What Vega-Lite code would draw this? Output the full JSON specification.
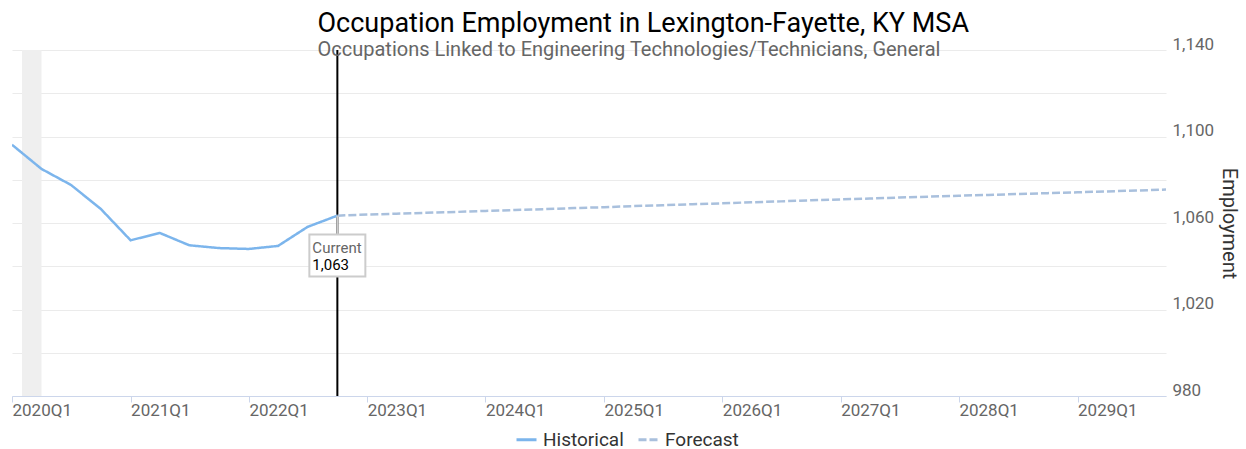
{
  "$schema": "https://vega.github.io/schema/vega-lite/v6.json",
  "width": 1154,
  "height": 346,
  "autosize": "none",
  "padding": {"left": 12, "top": 50, "right": 80, "bottom": 53},
  "background": "white",
  "config": {
    "font": "Roboto",
    "view": {"stroke": null}
  },
  "title": {
    "text": "Occupation Employment in Lexington-Fayette, KY MSA",
    "subtitle": "Occupations Linked to Engineering Technologies/Technicians, General",
    "anchor": "start",
    "dx": 306,
    "offset": -26,
    "font": "Roboto",
    "fontSize": 27,
    "fontWeight": "normal",
    "color": "#000000",
    "subtitleFont": "Roboto",
    "subtitleFontSize": 20,
    "subtitleColor": "#666666",
    "subtitlePadding": 2
  },
  "layer": [
    {
      "data": {"values": [{"start": "2020-02-01T00:00", "end": "2020-04-01T00:00"}]},
      "mark": {"type": "rect", "color": "#efefef"},
      "encoding": {
        "x": {"field": "start", "type": "temporal"},
        "x2": {"field": "end"}
      }
    },
    {
      "data": {"values": [{"date": "2022-10-01T00:00"}]},
      "mark": {"type": "rule", "color": "#000000", "strokeWidth": 2},
      "encoding": {
        "x": {"field": "date", "type": "temporal"}
      }
    },
    {
      "data": {"values": [
        {"date": "2020-01-01T00:00", "value": 1096.2, "series": "Historical"},
        {"date": "2020-04-01T00:00", "value": 1085.0, "series": "Historical"},
        {"date": "2020-07-01T00:00", "value": 1077.6, "series": "Historical"},
        {"date": "2020-10-01T00:00", "value": 1066.5, "series": "Historical"},
        {"date": "2021-01-01T00:00", "value": 1052.0, "series": "Historical"},
        {"date": "2021-04-01T00:00", "value": 1055.4, "series": "Historical"},
        {"date": "2021-07-01T00:00", "value": 1049.7, "series": "Historical"},
        {"date": "2021-10-01T00:00", "value": 1048.4, "series": "Historical"},
        {"date": "2022-01-01T00:00", "value": 1048.0, "series": "Historical"},
        {"date": "2022-04-01T00:00", "value": 1049.4, "series": "Historical"},
        {"date": "2022-07-01T00:00", "value": 1058.2, "series": "Historical"},
        {"date": "2022-10-01T00:00", "value": 1063.4, "series": "Historical"},
        {"date": "2022-10-01T00:00", "value": 1063.4, "series": "Forecast"},
        {"date": "2023-01-01T00:00", "value": 1063.9, "series": "Forecast"},
        {"date": "2023-04-01T00:00", "value": 1064.3, "series": "Forecast"},
        {"date": "2023-07-01T00:00", "value": 1064.7, "series": "Forecast"},
        {"date": "2023-10-01T00:00", "value": 1065.1, "series": "Forecast"},
        {"date": "2024-01-01T00:00", "value": 1065.6, "series": "Forecast"},
        {"date": "2024-04-01T00:00", "value": 1066.0, "series": "Forecast"},
        {"date": "2024-07-01T00:00", "value": 1066.4, "series": "Forecast"},
        {"date": "2024-10-01T00:00", "value": 1066.9, "series": "Forecast"},
        {"date": "2025-01-01T00:00", "value": 1067.3, "series": "Forecast"},
        {"date": "2025-04-01T00:00", "value": 1067.8, "series": "Forecast"},
        {"date": "2025-07-01T00:00", "value": 1068.2, "series": "Forecast"},
        {"date": "2025-10-01T00:00", "value": 1068.7, "series": "Forecast"},
        {"date": "2026-01-01T00:00", "value": 1069.1, "series": "Forecast"},
        {"date": "2026-04-01T00:00", "value": 1069.6, "series": "Forecast"},
        {"date": "2026-07-01T00:00", "value": 1070.0, "series": "Forecast"},
        {"date": "2026-10-01T00:00", "value": 1070.5, "series": "Forecast"},
        {"date": "2027-01-01T00:00", "value": 1070.9, "series": "Forecast"},
        {"date": "2027-04-01T00:00", "value": 1071.3, "series": "Forecast"},
        {"date": "2027-07-01T00:00", "value": 1071.8, "series": "Forecast"},
        {"date": "2027-10-01T00:00", "value": 1072.2, "series": "Forecast"},
        {"date": "2028-01-01T00:00", "value": 1072.6, "series": "Forecast"},
        {"date": "2028-04-01T00:00", "value": 1073.0, "series": "Forecast"},
        {"date": "2028-07-01T00:00", "value": 1073.4, "series": "Forecast"},
        {"date": "2028-10-01T00:00", "value": 1073.8, "series": "Forecast"},
        {"date": "2029-01-01T00:00", "value": 1074.2, "series": "Forecast"},
        {"date": "2029-04-01T00:00", "value": 1074.6, "series": "Forecast"},
        {"date": "2029-07-01T00:00", "value": 1075.0, "series": "Forecast"},
        {"date": "2029-10-01T00:00", "value": 1075.5, "series": "Forecast"}
      ]},
      "mark": {"type": "line", "strokeWidth": 2.5, "clip": true},
      "encoding": {
        "x": {
          "field": "date",
          "type": "temporal",
          "scale": {"domain": [{"year": 2020, "month": 1, "date": 1}, {"year": 2029, "month": 10, "date": 1}]},
          "axis": {
            "title": null,
            "values": [
              {"year": 2020, "month": 1, "date": 1},
              {"year": 2021, "month": 1, "date": 1},
              {"year": 2022, "month": 1, "date": 1},
              {"year": 2023, "month": 1, "date": 1},
              {"year": 2024, "month": 1, "date": 1},
              {"year": 2025, "month": 1, "date": 1},
              {"year": 2026, "month": 1, "date": 1},
              {"year": 2027, "month": 1, "date": 1},
              {"year": 2028, "month": 1, "date": 1},
              {"year": 2029, "month": 1, "date": 1}
            ],
            "format": "%YQ%q",
            "grid": false,
            "domainColor": "#ccd6eb",
            "domainWidth": 1,
            "tickColor": "#ccd6eb",
            "tickSize": 6,
            "labelAlign": "left",
            "labelBaseline": "top",
            "labelPadding": 0,
            "labelFontSize": 17,
            "labelColor": "#666666",
            "labelFont": "Roboto",
            "labelFlush": false,
            "labelOverlap": false,
            "zindex": 1
          }
        },
        "y": {
          "field": "value",
          "type": "quantitative",
          "scale": {"domain": [980, 1140], "nice": false, "zero": false},
          "axis": {
            "orient": "right",
            "title": "Employment",
            "titleFont": "Roboto",
            "titleFontSize": 20,
            "titleFontWeight": "normal",
            "titleColor": "#333333",
            "titlePadding": 5,
            "values": [980, 1000, 1020, 1040, 1060, 1080, 1100, 1120, 1140],
            "labelExpr": "datum.value % 40 == 20 ? format(datum.value, ',') : ''",
            "domain": false,
            "ticks": false,
            "grid": true,
            "gridColor": "#ebebeb",
            "gridWidth": 1,
            "labelAlign": "left",
            "labelBaseline": "alphabetic",
            "labelOffset": -1,
            "labelPadding": 6,
            "labelFontSize": 17,
            "labelColor": "#666666",
            "labelFont": "Roboto",
            "labelFlush": false,
            "labelOverlap": false,
            "zindex": 0
          }
        },
        "color": {
          "field": "series",
          "type": "nominal",
          "scale": {"domain": ["Historical", "Forecast"], "range": ["#7cb5ec", "#a9c0dd"]},
          "legend": {
            "title": null,
            "orient": "none",
            "legendX": 503,
            "legendY": 378,
            "direction": "horizontal",
            "symbolType": "stroke",
            "symbolSize": 400,
            "symbolStrokeWidth": 3,
            "labelFontSize": 19,
            "labelFont": "Roboto",
            "labelColor": "#333333",
            "labelOffset": 5,
            "labelLimit": 300,
            "columnPadding": 8
          }
        },
        "strokeDash": {
          "field": "series",
          "type": "nominal",
          "scale": {"domain": ["Historical", "Forecast"], "range": [[1, 0], [8, 3]]},
          "legend": {
            "title": null,
            "orient": "none",
            "legendX": 503,
            "legendY": 378,
            "direction": "horizontal",
            "symbolType": "stroke",
            "symbolSize": 400,
            "symbolStrokeWidth": 3,
            "labelFontSize": 19,
            "labelFont": "Roboto",
            "labelColor": "#333333",
            "labelOffset": 5,
            "labelLimit": 300,
            "columnPadding": 8
          }
        }
      }
    },
    {
      "data": {"values": [{"date": "2022-10-01T00:00", "from": 1063.4, "to": 1054.9}]},
      "mark": {"type": "rule", "color": "#cccccc", "strokeWidth": 2},
      "encoding": {
        "x": {"field": "date", "type": "temporal"},
        "y": {"field": "from", "type": "quantitative"},
        "y2": {"field": "to"}
      }
    },
    {
      "data": {"values": [{"date": "2022-10-01T00:00", "box": 1045.0}]},
      "mark": {"type": "point", "shape": "M-1,-0.75H1V0.75H-1Z", "size": 3136, "filled": false, "fill": "#ffffff", "fillOpacity": 1, "stroke": "#cccccc", "strokeWidth": 2, "opacity": 1},
      "encoding": {
        "x": {"field": "date", "type": "temporal"},
        "y": {"field": "box", "type": "quantitative"}
      }
    },
    {
      "data": {"values": [{"date": "2022-10-01T00:00", "pos": 1046.3, "label": "Current"}]},
      "mark": {"type": "text", "align": "left", "baseline": "alphabetic", "dx": -25, "fontSize": 15, "font": "Roboto", "color": "#666666"},
      "encoding": {
        "x": {"field": "date", "type": "temporal"},
        "y": {"field": "pos", "type": "quantitative"},
        "text": {"field": "label"}
      }
    },
    {
      "data": {"values": [{"date": "2022-10-01T00:00", "pos": 1038.3, "label": "1,063"}]},
      "mark": {"type": "text", "align": "left", "baseline": "alphabetic", "dx": -25, "fontSize": 15, "font": "Roboto", "color": "#000000"},
      "encoding": {
        "x": {"field": "date", "type": "temporal"},
        "y": {"field": "pos", "type": "quantitative"},
        "text": {"field": "label"}
      }
    }
  ]
}
